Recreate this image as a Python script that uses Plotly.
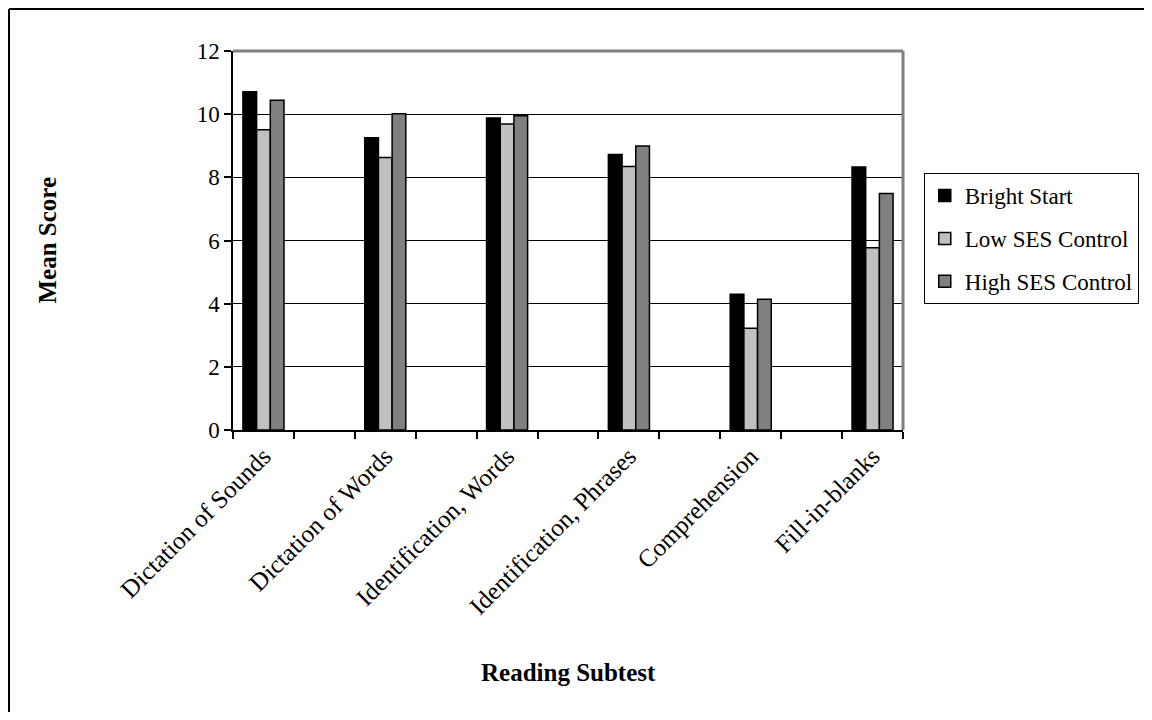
import plotly.graph_objects as go

categories = ["Dictation of Sounds", "Dictation of Words", "Identification, Words",
              "Identification, Phrases", "Comprehension", "Fill-in-blanks"]
bright_start = [10.71, 9.25, 9.88, 8.72, 4.30, 8.33]
low_ses = [9.51, 8.63, 9.69, 8.34, 3.22, 5.77]
high_ses = [10.44, 10.01, 9.95, 8.99, 4.14, 7.49]
y_ticks = [0, 2, 4, 6, 8, 10, 12]

series_names = ["Bright Start", "Low SES Control", "High SES Control"]
series_vals = [bright_start, low_ses, high_ses]
series_colors = ["#000000", "#C0C0C0", "#808080"]

# Each labelled category is followed by an empty slot (original chart has blank spacer categories)
xpos = [2 * i for i in range(len(categories))]
n_slots = 2 * len(categories) - 1
boundaries = [i - 0.5 for i in range(n_slots + 1)]

FONT = "Liberation Serif, Times New Roman, serif"

fig = go.Figure()
for name, vals, col in zip(series_names, series_vals, series_colors):
    fig.add_trace(go.Bar(
        x=xpos, y=vals, name=name,
        marker=dict(color=col, line=dict(color="#000000", width=1.5)),
        legendgroup=name,
    ))

fig.update_layout(
    width=1136, height=704,
    margin=dict(l=225, r=241, t=43, b=282, autoexpand=False),
    paper_bgcolor="white", plot_bgcolor="white",
    font=dict(family=FONT, size=22, color="black"),
    barmode="group", bargap=0.663, bargroupgap=0,
    showlegend=True,
    legend=dict(x=1.031, y=0.678, xanchor="left", yanchor="top",
                bordercolor="black", borderwidth=1, bgcolor="white",
                font=dict(family=FONT, size=23, color="black"),
                tracegroupgap=10, itemclick=False),
    xaxis=dict(
        range=[-0.5, n_slots - 0.5], automargin=False,
        tickmode="array", tickvals=xpos, ticktext=categories,
        tickangle=-45, ticks="", showgrid=False, zeroline=False,
        showline=True, linecolor="black", linewidth=1.5,
        tickfont=dict(family=FONT, size=25, color="black"),
        minor=dict(tickmode="array", tickvals=boundaries, ticks="outside",
                   ticklen=7, tickcolor="black", tickwidth=1.5, showgrid=False),
    ),
    yaxis=dict(
        range=[0, 12], tickmode="array", tickvals=y_ticks, automargin=False,
        ticks="outside", ticklen=7, tickcolor="black", tickwidth=1.5,
        showgrid=True, gridcolor="black", gridwidth=1, zeroline=False,
        showline=True, linecolor="black", linewidth=1.5,
        tickfont=dict(family=FONT, size=23, color="black"),
    ),
    annotations=[
        dict(text="<b>Mean Score</b>", xref="paper", yref="paper", x=-0.2776, y=0.5,
             showarrow=False, textangle=-90, font=dict(family=FONT, size=25, color="black"),
             xanchor="center", yanchor="middle"),
        dict(text="<b>Reading Subtest</b>", xref="paper", yref="paper", x=0.5, y=-0.641,
             showarrow=False, font=dict(family=FONT, size=25, color="black"),
             xanchor="center", yanchor="middle"),
    ],
    shapes=[
        dict(type="line", xref="paper", yref="paper", x0=0, x1=1, y0=1, y1=1,
             line=dict(color="#808080", width=3)),
        dict(type="line", xref="paper", yref="paper", x0=1, x1=1, y0=0, y1=1,
             line=dict(color="#808080", width=3)),
        dict(type="line", xref="paper", yref="paper", x0=-0.3343, x1=1.6, y0=1.1108, y1=1.1108,
             line=dict(color="black", width=2), layer="below"),
        dict(type="line", xref="paper", yref="paper", x0=-0.3343, x1=-0.3343, y0=-1.2, y1=1.1108,
             line=dict(color="black", width=2), layer="below"),
    ],
)

fig.write_html("out.html")
